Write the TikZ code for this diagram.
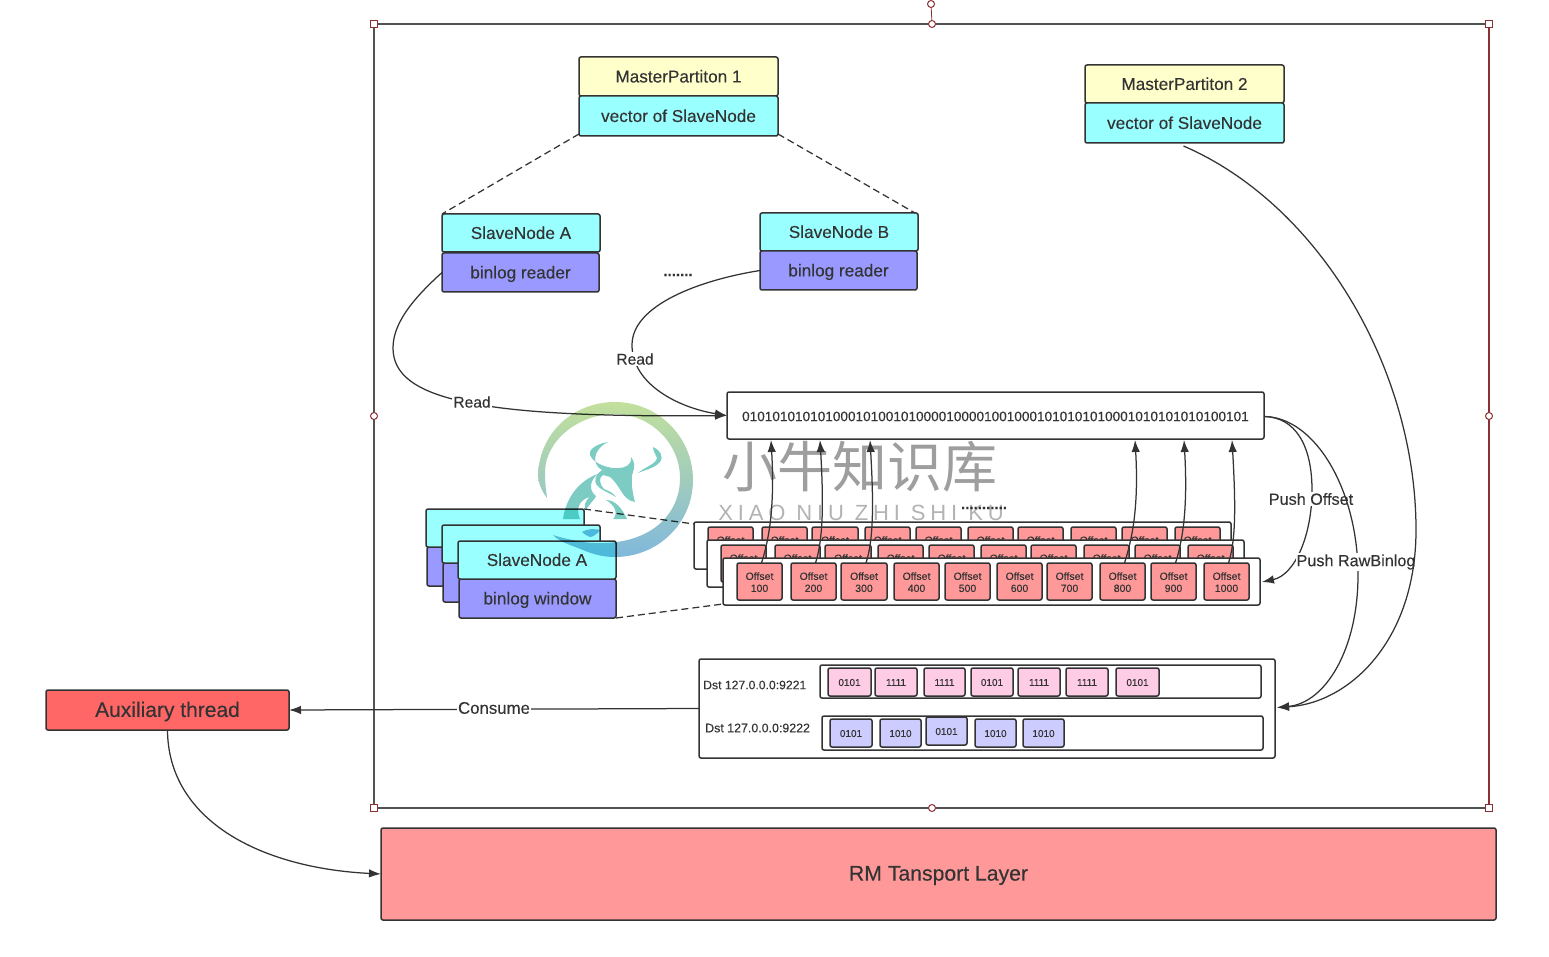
\documentclass[tikz,border=0pt]{standalone}
\usepackage{fontspec}
\usetikzlibrary{arrows.meta,calc}
\setmainfont[FakeBold=0.2]{Liberation Sans}
\newfontfamily\cjkmark{Noto Sans CJK SC}
\newfontfamily\latinmark[LetterSpace=22]{Liberation Sans}
\definecolor{ink}{HTML}{333333}
\definecolor{cyanfill}{HTML}{99FFFF}
\definecolor{yellowfill}{HTML}{FFFFCC}
\definecolor{purplefill}{HTML}{9999FF}
\definecolor{salmonfill}{HTML}{FF9999}
\definecolor{pinkfill}{HTML}{FFCCE6}
\definecolor{lavfill}{HTML}{CCCCFF}
\definecolor{redfill}{HTML}{FF6666}
\definecolor{framered}{HTML}{8A3034}
\definecolor{ringtop}{HTML}{C2E09C}
\definecolor{ringmid}{HTML}{80D0BE}
\definecolor{ringlow}{HTML}{80B8DC}
\definecolor{bullfill}{HTML}{7CCCC4}
\newcommand{\fs}[1]{\fontsize{#1pt}{\the\dimexpr #1pt*115/100\relax}\selectfont}
\tikzset{
  box/.style={draw=ink,line width=1.5pt,rounded corners=2pt,inner sep=0pt,outer sep=0pt,text=ink,align=center,font=\fs{17.2}},
  cyanbox/.style={box,fill=cyanfill},
  yellowbox/.style={box,fill=yellowfill},
  purplebox/.style={box,fill=purplefill},
  whitebox/.style={box,fill=white},
  offsetbox/.style={box,fill=salmonfill,font=\fs{10.5}},
  pinkcell/.style={box,fill=pinkfill,font=\fs{10}},
  lavcell/.style={box,fill=lavfill,font=\fs{10}},
  link/.style={draw=ink,line width=1.25pt},
  arrowlink/.style={link,-{Latex[length=12pt,width=8.5pt]}},
  dashlink/.style={link,dash pattern=on 7pt off 4pt},
  tag/.style={fill=white,inner sep=1pt,text=ink,font=\fs{16.2}},
  plain/.style={inner sep=0pt,text=ink},
  handle/.style={draw=framered,fill=white,line width=1pt,inner sep=0pt,minimum size=6.5pt,outer sep=0pt},
  roundhandle/.style={handle,circle,minimum size=7pt},
}
% [style]{name}{x1}{y1}{x2}{y2}{text}
\newcommand{\bx}[7][box]{\node[#1,minimum width={#5-#3},minimum height={#6-#4}] (#2) at ({(#3+#5)/2},{(#4+#6)/2}) {\raisebox{-1.5pt}[\height][\depth]{\vphantom{Ag}#7}};}
\begin{document}
\begin{tikzpicture}[x=1pt,y=-1pt]
\useasboundingbox (0,0) rectangle (1549,957);
% selection frame
\coordinate (fTL) at (374,24);
\coordinate (fTR) at (1489,24);
\coordinate (fBR) at (1489,808);
\coordinate (fBL) at (374,808);
\draw[ink!85,line width=1.1pt] (fBR) -- (fBL) -- (fTL) -- (fTR);
\draw[framered,line width=1.1pt] (fTR) -- (fBR);
\foreach \n in {fTL,fTR,fBR,fBL} \node[handle] at (\n) {};
\node[roundhandle] (hT) at (932,24) {};
\node[roundhandle] (hR) at (931,4) {};
\draw[framered,line width=.8pt] (hT) -- (hR);
\node[roundhandle] at (374,416) {};
\node[roundhandle] at (1489,416) {};
\node[roundhandle] at (932,808) {};
% master partitions
\bx[yellowbox]{mpah}{579}{57}{778}{96}{MasterPartiton 1}
\bx[cyanbox]{mpa}{579}{96}{778}{136}{vector of SlaveNode}
\bx[yellowbox]{mpbh}{1085}{65}{1284}{103}{MasterPartiton 2}
\bx[cyanbox]{mpb}{1085}{103}{1284}{143}{vector of SlaveNode}
% slave nodes
\bx[cyanbox]{sa}{442}{214}{600}{252}{SlaveNode A}
\bx[purplebox]{sar}{442}{253}{599}{292}{binlog reader}
\bx[cyanbox]{sb}{760}{213}{918}{251}{SlaveNode B}
\bx[purplebox]{sbr}{760}{251}{917}{290}{binlog reader}
\node[plain,font=\bfseries\fs{15}] (gap) at (678,275) {.......};
% binlog
\bx[whitebox]{bin}{727}{392}{1264}{439}{\fs{13.6}0101010101010001010010100001000010010001010101010001010101010100101}
% stacked windows
\bx[purplebox]{w1b}{427}{547}{584}{586}{}
\bx[cyanbox]{w1}{426}{509}{584}{547}{}
\bx[purplebox]{w2b}{443}{563}{600}{602}{}
\bx[cyanbox]{w2}{442}{525}{600}{563}{}
\bx[purplebox]{w3b}{459}{579}{616}{618}{binlog window}
\bx[cyanbox]{w3}{458}{541}{616}{579}{SlaveNode A}
% offset containers
\newcommand{\offsets}[3]{%
  \foreach \a/\b/\t in {737/782/100,791/836/200,841/887/300,894/939/400,945/990/500,997/1042/600,1047/1092/700,1100/1145/800,1151/1196/900,1204/1249/1000}{%
    \pgfmathsetmacro{\xa}{\a+#2}\pgfmathsetmacro{\xb}{\b+#2}\pgfmathsetmacro{\ya}{563+#3}\pgfmathsetmacro{\yb}{600+#3}%
    \bx[offsetbox]{#1\t}{\xa}{\ya}{\xb}{\yb}{\raisebox{-.5pt}[\height][\depth]{\begin{tabular}{@{}c@{}}Offset\\\t\end{tabular}}}%
  }}
\bx[whitebox]{ca}{694}{522}{1231}{569}{}
\offsets{oa}{-29}{-36}
\bx[whitebox]{cb}{707}{540}{1244}{587}{}
\offsets{ob}{-16}{-18}
\bx[whitebox]{cc}{723}{558}{1260}{605}{}
\offsets{oc}{0}{0}
% dst queues
\bx[whitebox]{dst}{699}{659}{1275}{758}{}
\bx[whitebox]{rowa}{820}{665}{1261}{698}{}
\bx[whitebox]{rowb}{822}{716}{1263}{750}{}
\node[plain,anchor=west,font=\fs{12.2}] (la) at (703,685) {Dst 127.0.0.0:9221};
\node[plain,anchor=west,font=\fs{12.4}] (lb) at (705,728) {Dst 127.0.0.0:9222};
\foreach \i/\a/\b/\t in {1/828/871/0101,2/875/917/1111,3/924/965/1111,4/971/1013/0101,5/1018/1060/1111,6/1066/1108/1111,7/1116/1159/0101}{\bx[pinkcell]{pa\i}{\a}{668}{\b}{696}{\t}}
\bx[lavcell]{qa1}{830}{719}{872}{747}{0101}
\bx[lavcell]{qa2}{880}{719}{921}{747}{1010}
\bx[lavcell]{qa3}{926}{717}{967}{745}{0101}
\bx[lavcell]{qa4}{975}{719}{1016}{747}{1010}
\bx[lavcell]{qa5}{1023}{719}{1064}{747}{1010}
% outside blocks
\bx[box,fill=redfill,font=\fs{21}]{aux}{46}{690}{289}{730}{Auxiliary thread}
\bx[box,fill=salmonfill,font=\fs{21.2}]{rm}{381}{828}{1496}{920}{RM Tansport Layer}
% watermark lettering
\node[inner sep=0pt,text=black!38,font=\cjkmark\fs{55}] (wmcn) at (860,467) {小牛知识库};
\node[inner sep=0pt,text=black!30,font=\latinmark\fs{22}] (wmen) at (861,513) {XIAO NIU ZHI SHI KU};
\node[plain,font=\bfseries\fs{15}] (dots) at (984,508) {...........};
% dashed links
\draw[dashlink] (mpa.south west) ++(0,-2) -- (sa.north west);
\draw[dashlink] (mpa.south east) ++(0,-2) -- ($(sb.north east)+(-3,0)$);
\draw[dashlink] (w1.north east) -- ($(ca.north west)+(0,2)$);
\draw[dashlink] (w3b.south east) -- ($(cc.south west)+(0,-1)$);
% reads
\draw[arrowlink] (sar.west) .. controls (415,297) and (393,322) .. (393,348) .. controls (393,400) and (480,418) .. (bin.west);
\node[tag,font=\fs{15.6}] (ra) at (472,402) {Read};
\draw[arrowlink] (sbr.west) .. controls (700,280) and (632,305) .. (632,345) .. controls (632,385) and (680,408) .. (bin.west);
\node[tag,font=\fs{15.6}] (rb) at (635,359) {Read};
% offset to binlog
\foreach \t/\ex in {100/44,200/93,300/143,800/408,900/457,1000/505}{
  \draw[arrowlink] ($(oc\t.north)+(2,0)$) .. controls ($(oc\t.north)+(9,-22)$) and ($(bin.south west)+(\ex+4,70)$) .. ($(bin.south west)+(\ex,1)$);
}
% pushes
\draw[arrowlink] ($(bin.east)+(0,1)$) .. controls (1295,417) and (1312,445) .. (1312,490) .. controls (1312,535) and (1295,575) .. ($(cc.east)+(2,0.5)$);
\node[tag] (po) at (1311,499) {Push Offset};
\draw[arrowlink] ($(bin.east)+(0,1)$) .. controls (1315,417) and (1358,490) .. (1358,575) .. controls (1358,650) and (1325,703) .. ($(dst.east)+(2,-1)$);
\node[tag] (pr) at (1356,562) {Push RawBinlog};
\draw[arrowlink] ($(mpb.south)+(-1,3)$) .. controls (1320,205) and (1416,370) .. (1416,530) .. controls (1416,640) and (1350,703) .. ($(dst.east)+(2,-1)$);
% consume and transport
\draw[arrowlink] (dst.west) -- (aux.east);
\node[tag,font=\fs{16.8}] (cs) at (494,708) {Consume};
\draw[arrowlink] (aux.south) .. controls (168,820) and (260,868) .. (rm.west);
% watermark logo
\begin{scope}[blend mode=multiply]
\shade[top color=ringtop,middle color=ringmid,bottom color=ringlow]
 (547,498) .. controls (541,490) and (538,482) .. (538,474) .. controls (540,432) and (574,402) .. (615,402)
 .. controls (658,402) and (693,437) .. (693,480) .. controls (693,523) and (658,557) .. (615,557)
 .. controls (600,557) and (590,553) .. (578,548) .. controls (570,545) and (558,541) .. (553,535)
 .. controls (565,539) and (585,543) .. (595,543) .. controls (650,545) and (680,515) .. (680,478)
 .. controls (680,443) and (650,414) .. (615,414) .. controls (577,414) and (545,442) .. (545,472)
 .. controls (545,483) and (546,490) .. (547,498) -- cycle;
% head
\fill[bullfill] (608,442) .. controls (596,444) and (588,450) .. (590,455) .. controls (593,463) and (608,469) .. (618,468)
 .. controls (624,468) and (632,466) .. (631,457) .. controls (635,462) and (635,467) .. (633,472)
 .. controls (630,480) and (633,495) .. (635,502) .. controls (628,501) and (624,496) .. (621,491)
 .. controls (618,486) and (614,480) .. (610,477) -- (603,475) .. controls (598,478) and (600,485) .. (604,489)
 .. controls (610,491) and (614,494) .. (616,497) .. controls (608,492) and (600,490) .. (596,484)
 .. controls (594,480) and (596,474) .. (602,470) .. controls (592,465) and (592,450) .. (608,442) -- cycle;
% body and front leg
\fill[bullfill] (598,474) .. controls (580,480) and (566,497) .. (563,519) -- (580,519) .. controls (576,510) and (578,500) .. (590,497)
 .. controls (584,502) and (584,506) .. (586,510) .. controls (590,503) and (596,498) .. (596,496)
 .. controls (588,490) and (590,480) .. (598,474) -- cycle;
% hind leg
\fill[bullfill] (606,500) .. controls (615,500) and (622,508) .. (627,519) -- (613,519) .. controls (618,514) and (616,506) .. (606,500) -- cycle;
% swirl
\fill[bullfill] (653,447) .. controls (660,450) and (664,456) .. (660,462) .. controls (655,468) and (645,470) .. (638,473)
 .. controls (645,467) and (656,464) .. (657,458) .. controls (656,454) and (653,452) .. (653,447) -- cycle;
% hand
\fill[ringlow] (582,532) .. controls (588,528) and (596,529) .. (600,530) .. controls (598,534) and (592,537) .. (590,537) .. controls (587,536) and (584,534) .. (582,532) -- cycle;
\end{scope}
\end{tikzpicture}
\end{document}
